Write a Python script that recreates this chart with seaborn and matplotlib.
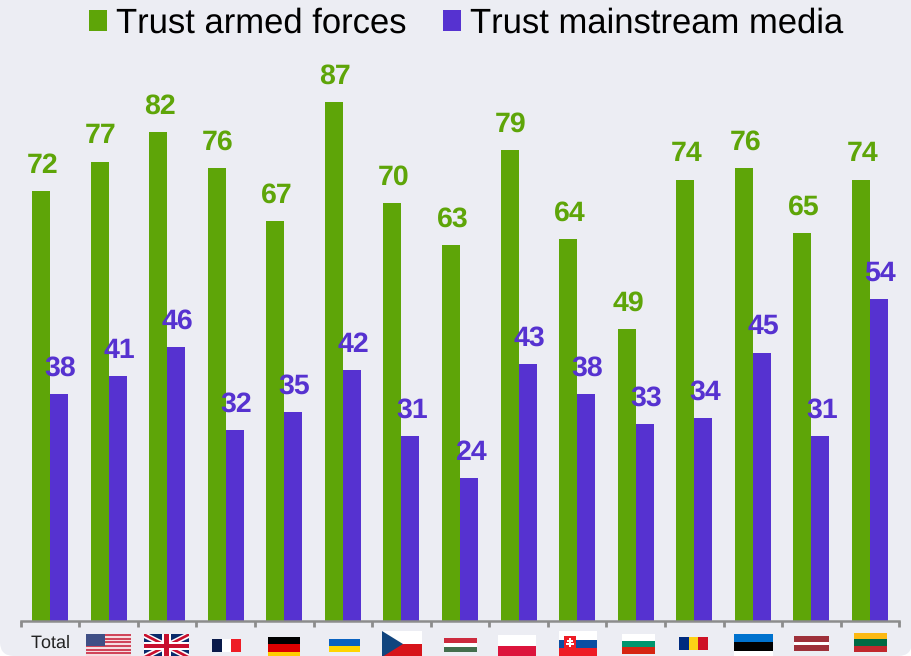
import pandas as pd
import seaborn as sns
import matplotlib.pyplot as plt
from matplotlib.patches import Rectangle, Polygon, FancyBboxPatch
from matplotlib.ticker import FixedLocator, NullLocator

countries = ['Total', 'US', 'UK', 'France', 'Germany', 'Ukraine', 'Czechia', 'Hungary',
             'Poland', 'Slovakia', 'Bulgaria', 'Romania', 'Estonia', 'Latvia', 'Lithuania']
armed = [72, 77, 82, 76, 67, 87, 70, 63, 79, 64, 49, 74, 76, 65, 74]
media = [38, 41, 46, 32, 35, 42, 31, 24, 43, 38, 33, 34, 45, 31, 54]

GREEN = '#5EA508'
PURPLE = '#5632D0'
BG = '#ECEDF3'
W, H = 912, 656

sns.set_theme(style='white')
plt.rcParams['font.family'] = ['Liberation Sans', 'DejaVu Sans']
plt.rcParams['text.hinting'] = 'no_hinting'
plt.rcParams['text.kerning_factor'] = 6

df = pd.DataFrame({'country': countries, 'Trust armed forces': armed, 'Trust mainstream media': media})
long_df = df.melt(id_vars='country', var_name='measure', value_name='value')

fig = plt.figure(figsize=(W / 100, H / 100), dpi=100, facecolor='white')
fig.patches.append(FancyBboxPatch((0, 0), W, H + 20, boxstyle='round,pad=0,rounding_size=14',
                                  transform=None, fc=BG, ec='none', zorder=-5))

# axes box in pixels: baseline at y=621, 5.966 px per point
ax = fig.add_axes([20.7 / W, (H - 621) / H, 878.6 / W, 596.6 / H])
ax.patch.set_alpha(0)
sns.barplot(data=long_df, x='country', y='value', hue='measure', palette=[GREEN, PURPLE],
            width=0.615, gap=0, saturation=1, errorbar=None, linewidth=0, ax=ax)

for cont, col in zip(ax.containers, [GREEN, PURPLE]):
    labs = ax.bar_label(cont, color=col, fontsize=20.5, fontweight='bold', padding=9)
    for a in labs:
        a.xyann = (1, a.xyann[1])

ax.set_xlim(-0.5, 14.5)
ax.set_ylim(0, 100)
ax.set_xlabel('')
ax.set_ylabel('')
ax.yaxis.set_major_locator(NullLocator())
ax.xaxis.set_major_locator(FixedLocator([i - 0.5 for i in range(16)]))
ax.tick_params(axis='x', length=4, width=2, color='#8C8C8C', labelbottom=False, bottom=True)
for s in ['top', 'left', 'right']:
    ax.spines[s].set_visible(False)
ax.spines['bottom'].set_color('#8C8C8C')
ax.spines['bottom'].set_linewidth(1.8)

sns.move_legend(ax, 'upper center', bbox_to_anchor=(466 / W, 1 - 4 / H), bbox_transform=fig.transFigure,
                ncol=2, frameon=False, title=None, fontsize=24.9, handlelength=0.52, handleheight=0.52,
                handletextpad=0.26, columnspacing=1.07, borderaxespad=0, borderpad=0.1)
for t in ax.get_legend().get_texts():
    t.set_color('black')

fig.text(51 / W, (H - 643) / H, 'Total', fontsize=13, color='#222222', ha='center', va='center')


# flags, drawn in pixel coordinates of the picture
def rect(x0, y0, x1, y1, col):
    fig.patches.append(Rectangle((x0, H - y1), x1 - x0, y1 - y0, transform=None, fc=col, ec='none'))


def poly(pts, col):
    fig.patches.append(Polygon([(x, H - y) for x, y in pts], closed=True, transform=None, fc=col, ec='none'))


def hstripes(x0, y0, x1, y1, cols):
    h = (y1 - y0) / len(cols)
    for i, c in enumerate(cols):
        rect(x0, y0 + i * h, x1, y0 + (i + 1) * h, c)


def vstripes(x0, y0, x1, y1, cols):
    w = (x1 - x0) / len(cols)
    for i, c in enumerate(cols):
        rect(x0 + i * w, y0, x0 + (i + 1) * w, y1, c)


# US
hstripes(86, 634, 131, 658, ['#D0455A', '#F5DDE0'] * 6 + ['#D0455A'])
rect(86, 634, 105, 646, '#3F4F85')
# UK
rect(144, 634, 189, 658, '#0A2A6B')
poly([(144, 634), (149, 634), (189, 654), (189, 658), (184, 658), (144, 638)], 'white')
poly([(189, 634), (184, 634), (144, 654), (144, 658), (149, 658), (189, 638)], 'white')
poly([(144, 634), (146, 634), (189, 656), (189, 658), (187, 658), (144, 636)], '#C8102E')
poly([(189, 634), (187, 634), (144, 656), (144, 658), (146, 658), (189, 636)], '#C8102E')
rect(144, 642, 189, 650, 'white')
rect(162, 634, 171, 658, 'white')
rect(144, 644, 189, 648, '#C8102E')
rect(164, 634, 169, 658, '#C8102E')
vstripes(212, 639, 241, 652, ['#0A1A4A', 'white', '#EE1C25'])
hstripes(268, 637, 300, 659, ['black', '#DD0000', '#FFCE00'])
hstripes(329, 639, 360, 652, ['#0A62C0', '#FFD500'])
# Czechia
hstripes(382, 631, 422, 657, ['white', '#D7141A'])
poly([(382, 631), (403, 644), (382, 657)], '#11457E')
hstripes(444, 638, 477, 652, ['#CD2A3E', 'white', '#436F4D'])
hstripes(498, 635, 536, 657, ['white', '#DC143C'])
# Slovakia
hstripes(559, 631, 597, 657, ['white', '#0B4EA2', '#EE1C25'])
rect(564, 636, 576, 650, '#EE1C25')
rect(569, 638, 571, 647, 'white')
rect(567, 640, 573, 642, 'white')
rect(566, 643, 574, 645, 'white')
hstripes(622, 634, 655, 654, ['white', '#00966E', '#D62612'])
vstripes(679, 637, 708, 650, ['#002B7F', '#FCD116', '#CE1126'])
hstripes(734, 634, 773, 659, ['#0072CE', 'black', 'white'])
# Latvia is 2:1:2
hstripes(794, 636, 829, 651, ['#9E3039', '#9E3039', 'white', '#9E3039', '#9E3039'])
hstripes(854, 633, 887, 652, ['#FDB913', '#006A44', '#C1272D'])

fig.savefig('out.png', dpi=100, facecolor=fig.get_facecolor())
